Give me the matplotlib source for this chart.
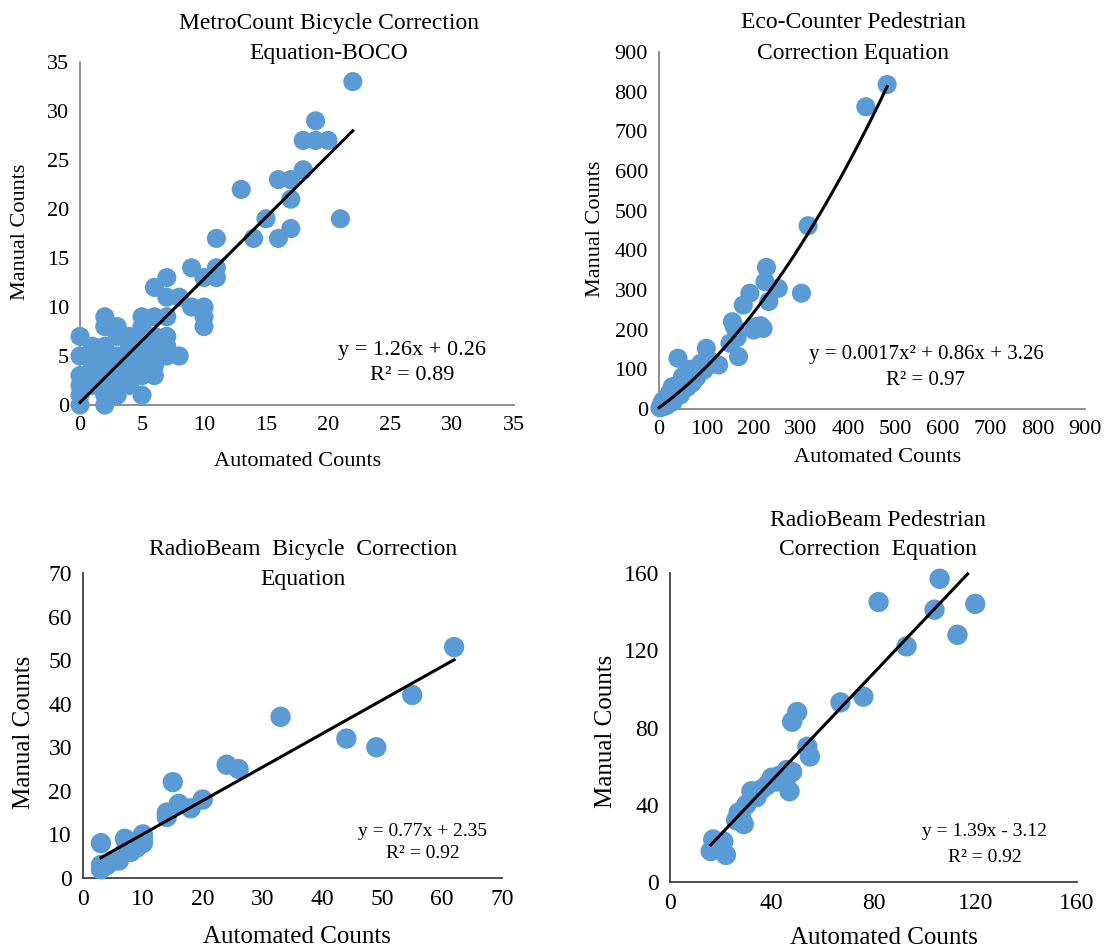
import matplotlib
matplotlib.use('Agg')
import numpy as np
import matplotlib.pyplot as plt

plt.rcParams['font.family'] = ['Liberation Serif', 'DejaVu Serif']

W, H = 1110, 948
BLUE = '#5B9BD5'

# MetroCount bicycle (BOCO)
metro_auto = [0,0,0,0,0,0, 1,1,1,1,1, 2,2,2,2,2,2,2,2,2, 3,3,3,3,3,3,3,
              4,4,4,4,4,4, 5,5,5,5,5,5,5,5, 6,6,6,6,6,6,6, 7,7,7,7,7,7,
              8,8, 9,9, 10,10,10,10, 11,11,11, 13, 14, 15, 16,16, 17,17,17,
              18,18, 19,19, 20, 21, 22]
metro_manual = [0,1,2,3,5,7, 2,3,4,5,6, 0,1,2,3,4,5,6,8,9, 1,2,3,4,5,7,8,
                2,3,4,5,6,7, 1,3,4,5,6,7,8,9, 3,4,5,6,7,9,12, 5,6,7,9,11,13,
                5,11, 10,14, 8,9,10,13, 13,14,17, 22, 17, 19, 17,23, 18,21,23,
                24,27, 27,29, 27, 19, 33]

# Eco-Counter pedestrian
eco_auto = [2, 5, 8, 10, 15, 18, 22, 25, 28, 30, 35, 38, 40, 45, 50, 55, 60, 65,
            70, 75, 80, 88, 95, 100, 105, 110, 126, 150, 155, 160, 165, 168,
            178, 192, 200, 205, 215, 220, 224, 227, 232, 252, 301, 315, 437, 482]
eco_manual = [3, 12, 20, 6, 25, 10, 40, 30, 56, 18, 45, 60, 128, 35, 82, 70, 55, 100,
              65, 90, 80, 115, 98, 153, 110, 120, 111, 166, 220, 205, 180, 132,
              262, 292, 199, 208, 210, 203, 321, 357, 271, 304, 292, 462, 762, 818]

# RadioBeam bicycle
rb_bike_auto = [3,3,3,4,5,6,7,7,8,9,10,10,10,14,14,15,16,18,20,24,26,33,44,49,55,62]
rb_bike_manual = [2,3,8,3,4,4,6,9,6,7,8,9,10,14,15,22,17,16,18,26,25,37,32,30,42,53]

# RadioBeam pedestrian
rb_ped_auto = [16,17,18,21,22,26,27,28,29,30,32,34,36,38,40,42,43,45,46,47,47,48,48,
               50,54,55,67,76,82,93,104,106,113,120]
rb_ped_manual = [16,22,18,21,14,32,36,33,30,40,47,44,48,50,54,52,55,53,58,56,47,57,83,
                 88,70,65,93,96,145,122,141,157,128,144]

panels = [
    dict(x=metro_auto, y=metro_manual, box=(80, 514, 405, 62), lim=35, step=5,
         fit=lambda t: 1.26 * t + 0.26, fit_range=(0, 22),
         title=['MetroCount Bicycle Correction', 'Equation-BOCO'], title_xy=(329, 23, 53), tsize=17,
         eq=['y = 1.26x + 0.26', 'R² = 0.89'], eq_xy=(412, 350, 375), esize=16,
         xl=(298, 461), yl=(21, 232), lsize=16, ticksize=16, ms=190, spine='#868686'),
    dict(x=eco_auto, y=eco_manual, box=(659, 1085, 409, 52), lim=900, step=100,
         fit=lambda t: 0.0017 * t ** 2 + 0.86 * t + 3.26, fit_range=(0, 482),
         title=['Eco-Counter Pedestrian', 'Correction Equation'], title_xy=(853, 23, 53), tsize=17,
         eq=['y = 0.0017x² + 0.86x + 3.26', 'R² = 0.97'], eq_xy=(926, 355, 381), esize=15,
         xl=(878, 457), yl=(595, 229), lsize=16, ticksize=16, ms=190, spine='#868686'),
    dict(x=rb_bike_auto, y=rb_bike_manual, box=(83, 502, 878, 573), lim=70, step=10,
         fit=lambda t: 0.77 * t + 2.35, fit_range=(3, 62),
         title=['RadioBeam  Bicycle  Correction', 'Equation'], title_xy=(303, 550, 580), tsize=17,
         eq=['y = 0.77x + 2.35', 'R² = 0.92'], eq_xy=(423, 832, 854), esize=14,
         xl=(297, 937), yl=(24, 732), lsize=18, ticksize=17, ms=215, spine='#404040'),
    dict(x=rb_ped_auto, y=rb_ped_manual, box=(670, 1077, 882, 573), lim=160, step=40,
         fit=lambda t: 1.39 * t - 3.12, fit_range=(16, 117),
         title=['RadioBeam Pedestrian', 'Correction  Equation'], title_xy=(878, 520, 550), tsize=17,
         eq=['y = 1.39x - 3.12', 'R² = 0.92'], eq_xy=(985, 832, 857), esize=14,
         xl=(884, 938), yl=(606, 731), lsize=18, ticksize=17, ms=215, spine='#404040'),
]

fig = plt.figure(figsize=(W / 100, H / 100), dpi=100)

def fx(px):
    return px / W

def fy(py):
    return 1 - py / H

for p in panels:
    x0, x1, yb, yt = p['box']
    ax = fig.add_axes([fx(x0), fy(yb), fx(x1) - fx(x0), fy(yt) - fy(yb)])
    ax.scatter(p['x'], p['y'], s=p['ms'], color=BLUE, edgecolors='none', zorder=3, clip_on=False)
    t = np.linspace(p['fit_range'][0], p['fit_range'][1], 200)
    ax.plot(t, p['fit'](t), color='black', lw=2.2, zorder=4, clip_on=False)
    ax.set_xlim(0, p['lim'])
    ax.set_ylim(0, p['lim'])
    ticks = np.arange(0, p['lim'] + p['step'] / 2, p['step'])
    ax.set_xticks(ticks)
    ax.set_yticks(ticks)
    ax.tick_params(length=0, labelsize=p['ticksize'], pad=8)
    for s in ['top', 'right']:
        ax.spines[s].set_visible(False)
    for s in ['left', 'bottom']:
        ax.spines[s].set_color(p['spine'])
        ax.spines[s].set_linewidth(1.3)
    ax.patch.set_alpha(0)

    tx, ty1, ty2 = p['title_xy']
    fig.text(fx(tx), fy(ty1), p['title'][0], ha='center', va='center', fontsize=p['tsize'])
    fig.text(fx(tx), fy(ty2), p['title'][1], ha='center', va='center', fontsize=p['tsize'])
    ex, ey1, ey2 = p['eq_xy']
    fig.text(fx(ex), fy(ey1), p['eq'][0], ha='center', va='center', fontsize=p['esize'])
    fig.text(fx(ex), fy(ey2), p['eq'][1], ha='center', va='center', fontsize=p['esize'])
    fig.text(fx(p['xl'][0]), fy(p['xl'][1]), 'Automated Counts', ha='center', va='center',
             fontsize=p['lsize'])
    fig.text(fx(p['yl'][0]), fy(p['yl'][1]), 'Manual Counts', ha='center', va='center',
             rotation=90, fontsize=p['lsize'])

fig.savefig('out.png', dpi=100)
